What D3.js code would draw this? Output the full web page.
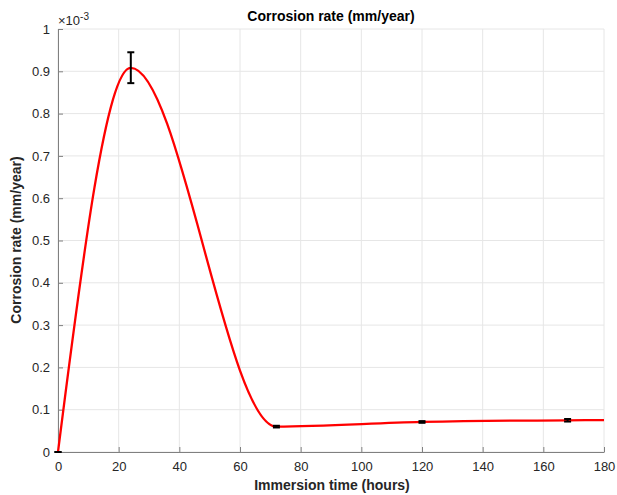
<!DOCTYPE html>
<html><head><meta charset="utf-8">
<script src="https://cdn.jsdelivr.net/npm/d3@7"></script>
<style>body{margin:0;background:#fff}svg{display:block}text{font-family:"Liberation Sans",Arial,sans-serif}</style>
</head><body><svg id="c" width="617" height="495"></svg>
<script>
// data (values in 1e-3 mm/year)
const hours = [0, 24, 72, 120, 168];
const rate = [0, 0.908, 0.060, 0.071, 0.075];
const errLow = [0, 0.036, 0.002, 0.002, 0.003];
const errHigh = [0, 0.037, 0.002, 0.002, 0.003];
const curveHours = [0, 24, 72, 120, 168, 180];
const curveRate = [0, 0.908, 0.060, 0.071, 0.075, 0.0752];
const xTicks = [0, 20, 40, 60, 80, 100, 120, 140, 160, 180];
const yTicks = [0, 0.1, 0.2, 0.3, 0.4, 0.5, 0.6, 0.7, 0.8, 0.9, 1];

const svg = d3.select("#c");
const L = 58, R = 604, T = 29, B = 452;
const x = d3.scaleLinear().domain([0, 180]).range([L, R]);
const y = d3.scaleLinear().domain([0, 1]).range([B, T]);
const axisCol = "#808080", txtCol = "#262626";

// grid
svg.append("g").selectAll("line").data(xTicks).join("line")
  .attr("x1", d => x(d)).attr("x2", d => x(d)).attr("y1", T).attr("y2", B)
  .attr("stroke", "#e6e6e6").attr("stroke-width", 1);
svg.append("g").selectAll("line").data(yTicks).join("line")
  .attr("x1", L).attr("x2", R).attr("y1", d => y(d)).attr("y2", d => y(d))
  .attr("stroke", "#e6e6e6").attr("stroke-width", 1);

// axes
const xa = svg.append("g").attr("transform", `translate(0,${B})`)
  .call(d3.axisBottom(x).tickValues(xTicks).tickSizeInner(-5).tickSizeOuter(0).tickPadding(10).tickFormat(d3.format("d")));
const ya = svg.append("g").attr("transform", `translate(${L},0)`)
  .call(d3.axisLeft(y).tickValues(yTicks).tickSizeInner(-5).tickSizeOuter(0).tickPadding(8).tickFormat(d => d === 0 ? "0" : d === 1 ? "1" : d3.format(".1f")(d)));
[xa, ya].forEach(a => {
  a.select(".domain").attr("stroke", axisCol);
  a.selectAll(".tick line").attr("stroke", axisCol);
  a.selectAll(".tick text").attr("fill", txtCol).attr("font-size", 13);
});

// curve
const line = d3.line().x((d, i) => x(curveHours[i])).y(d => y(d)).curve(d3.curveMonotoneX);
svg.append("path").datum(curveRate).attr("d", line)
  .attr("fill", "none").attr("stroke", "#ff0000").attr("stroke-width", 2.3);

// error bars
const eb = svg.append("g").attr("stroke", "#000").attr("stroke-width", 2);
hours.forEach((h, i) => {
  const cx = x(h), y1 = y(rate[i] + errHigh[i]), y0 = y(rate[i] - errLow[i]);
  eb.append("line").attr("x1", cx).attr("x2", cx).attr("y1", y1).attr("y2", y0);
  eb.append("line").attr("x1", cx - 3.5).attr("x2", cx + 3.5).attr("y1", y1).attr("y2", y1);
  eb.append("line").attr("x1", cx - 3.5).attr("x2", cx + 3.5).attr("y1", y0).attr("y2", y0);
});

// texts
svg.append("text").attr("x", 331).attr("y", 21).attr("text-anchor", "middle")
  .attr("font-size", 14).attr("font-weight", "bold").attr("fill", "#000").text("Corrosion rate (mm/year)");
svg.append("text").attr("x", 332).attr("y", 490).attr("text-anchor", "middle")
  .attr("font-size", 14).attr("font-weight", "bold").attr("fill", txtCol).text("Immersion time (hours)");
svg.append("text").attr("transform", "translate(21,240) rotate(-90)").attr("text-anchor", "middle")
  .attr("font-size", 14).attr("font-weight", "bold").attr("fill", txtCol).text("Corrosion rate (mm/year)");
const ex = svg.append("text").attr("x", 58).attr("y", 25).attr("font-size", 13).attr("fill", txtCol);
ex.append("tspan").text("×10");
ex.append("tspan").attr("dy", -5).attr("font-size", 10).text("-3");
</script></body></html>
